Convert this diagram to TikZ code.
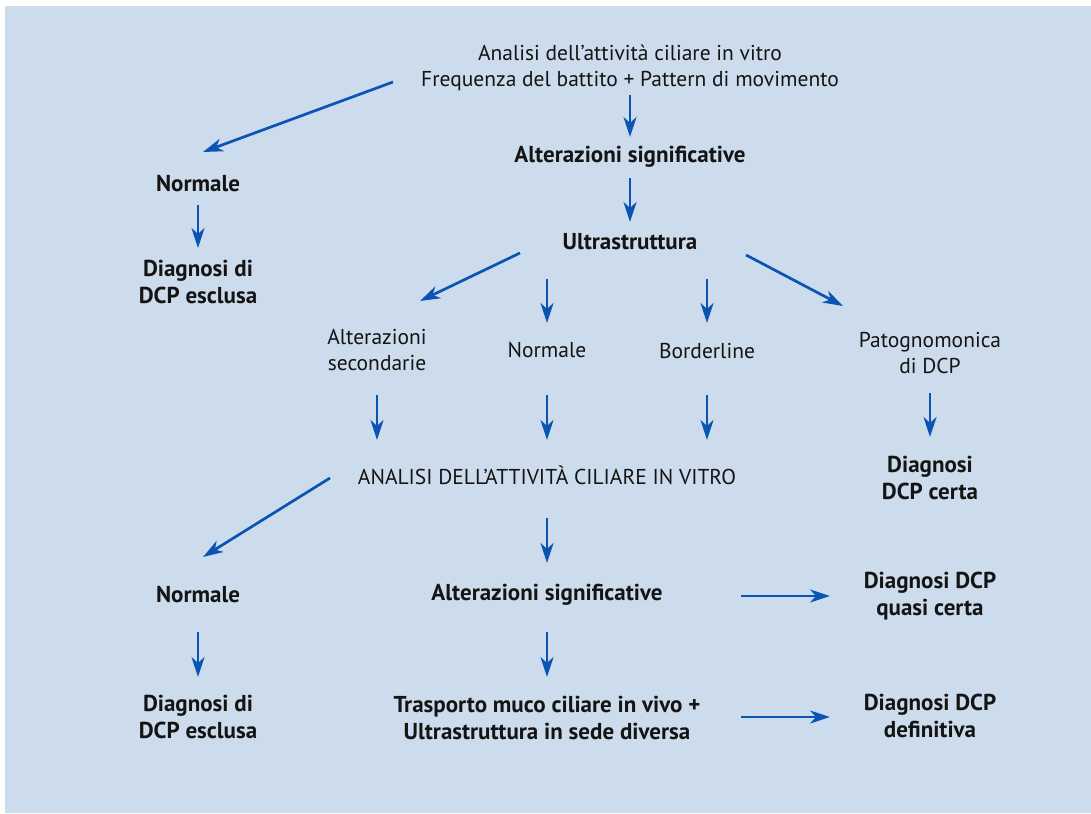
\documentclass[tikz,border=0pt]{standalone}
\usepackage{fontspec}
\setmainfont{PT Sans}
\usetikzlibrary{positioning, arrows.meta}

\definecolor{panel}{HTML}{CCDCEC}
\definecolor{arrowblue}{HTML}{0A55B4}
\definecolor{ink}{HTML}{141414}

\begin{document}
\begin{tikzpicture}[x=1pt, y=-1pt]
        \tikzset{
            arr/.style={-{Stealth[length=20pt, width=13pt, inset=6pt]}, line width=2.7pt, draw=arrowblue}, % blue arrows
            plain/.style={align=center, font=\fontsize{21.5}{26.5}\selectfont, text=ink, inner sep=0pt}, % normal text
            strong/.style={plain, font=\fontsize{23}{26.5}\selectfont\bfseries}, % bold text
            }

        % frame
        \useasboundingbox (0,0) rectangle (1091,813);
        \fill[panel] (5,6) rectangle (1091,813);

        % first test
        \node[plain] (analisi) at (630,68) {Analisi dell’attività ciliare in vitro\\Frequenza del battito + Pattern di movimento};
        \node[strong] (altsig) at (630,157) {Alterazioni significative};
        \node[strong] (ultra) at (630,242) {Ultrastruttura};
        \node[strong] (normA) at (198,184) {Normale};
        \node[strong] (escA) at (198,282) {Diagnosi di\\DCP esclusa};

        % ultrastructure outcomes
        \node[plain] (usec) at (377,350) {Alterazioni\\secondarie};
        \node[plain] (unorm) at (547,350) {Normale};
        \node[plain] (ubord) at (707,351) {Borderline};
        \node[plain] (upat) at (930,353) {Patognomonica\\di DCP};
        \node[strong] (certa) at (930,478) {Diagnosi\\DCP certa};

        % second test
        \node[plain] (analisi2) at (547,475) {ANALISI DELL’ATTIVITÀ CILIARE IN VITRO};
        \node[strong] (normB) at (198,595) {Normale};
        \node[strong] (escB) at (198,717) {Diagnosi di\\DCP esclusa};
        \node[strong] (altsigB) at (547,595) {Alterazioni significative};
        \node[strong] (trasp) at (547,718) {Trasporto muco ciliare in vivo +\\Ultrastruttura in sede diversa};
        \node[strong] (quasi) at (930,596) {Diagnosi DCP\\quasi certa};
        \node[strong] (defin) at (930,716) {Diagnosi DCP\\definitiva};

        % first test paths
        \draw[arr] ([shift={(-237,14)}]analisi.center) -- ([shift={(5,-32)}]normA.center);
        \draw[arr] ([shift={(0,27)}]analisi.center) -- ([shift={(0,-20)}]altsig.center);
        \draw[arr] ([shift={(0,21)}]altsig.center) -- ([shift={(0,-20)}]ultra.center);
        \draw[arr] ([shift={(0,21)}]normA.center) -- ([shift={(0,-34)}]escA.center);

        % ultrastructure paths
        \draw[arr] ([shift={(-110,11)}]ultra.center) -- ([shift={(43,-49)}]usec.center);
        \draw[arr] ([shift={(-83,37)}]ultra.center) -- ([shift={(0,-27)}]unorm.center);
        \draw[arr] ([shift={(77,37)}]ultra.center) -- ([shift={(0,-28)}]ubord.center);
        \draw[arr] ([shift={(116,13)}]ultra.center) -- ([shift={(-87,-47)}]upat.center);
        \draw[arr] ([shift={(0,40)}]upat.center) -- ([shift={(0,-41)}]certa.center);

        % into second test
        \draw[arr] ([shift={(0,45)}]usec.center) -- ([shift={(-170,-35)}]analisi2.center);
        \draw[arr] ([shift={(0,45)}]unorm.center) -- ([shift={(0,-35)}]analisi2.center);
        \draw[arr] ([shift={(0,44)}]ubord.center) -- ([shift={(160,-35)}]analisi2.center);

        % second test paths
        \draw[arr] ([shift={(-217,3)}]analisi2.center) -- ([shift={(5,-38)}]normB.center);
        \draw[arr] ([shift={(0,43)}]analisi2.center) -- ([shift={(0,-32)}]altsigB.center);
        \draw[arr] ([shift={(194,1)}]altsigB.center) -- ([shift={(-100,0)}]quasi.center);
        \draw[arr] ([shift={(0,37)}]normB.center) -- ([shift={(0,-40)}]escB.center);
        \draw[arr] ([shift={(0,37)}]altsigB.center) -- ([shift={(0,-41)}]trasp.center);
        \draw[arr] ([shift={(194,-1)}]trasp.center) -- ([shift={(-100,1)}]defin.center);
    \end{tikzpicture}
\end{document}
